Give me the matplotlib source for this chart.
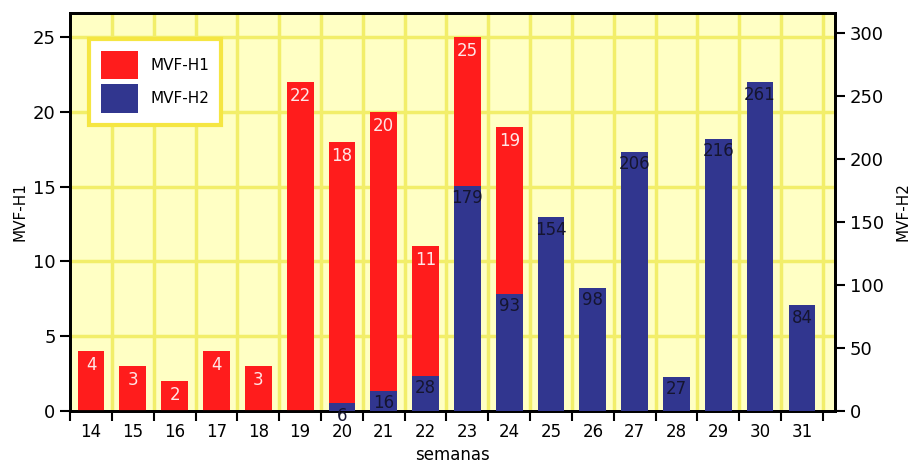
import matplotlib.pyplot as plt
import numpy as np

semanas = [14, 15, 16, 17, 18, 19, 20, 21, 22, 23, 24, 25, 26, 27, 28, 29, 30, 31]
mvf_h1 = [4, 3, 2, 4, 3, 22, 18, 20, 11, 25, 19, 0, 0, 0, 0, 0, 0, 0]
mvf_h2 = [0, 0, 0, 0, 0, 0, 6, 16, 28, 179, 93, 154, 98, 206, 27, 216, 261, 84]

RED = "#ff1c1c"
NAVY = "#31368f"
BG = "#ffffc4"
GRID = "#f2ee6a"

x = np.array(semanas)
w = 0.64

fig = plt.figure(figsize=(9.11, 4.67), dpi=100)
ax = fig.add_axes([0.077, 0.12, 0.84, 0.852])
ax.set_facecolor(BG)

b1 = ax.bar(x, mvf_h1, width=w, color=RED, zorder=3)
ax.set_xlim(13.5, 31.8)
ax.set_ylim(0, 26.6)
ax.set_yticks([0, 5, 10, 15, 20, 25])

# grid: horizontal on left ticks, vertical on week boundaries
for yv in [5, 10, 15, 20, 25]:
    ax.axhline(yv, color=GRID, lw=2.5, zorder=1)
for xb in np.arange(14.5, 32, 1):
    ax.axvline(xb, color=GRID, lw=2.5, zorder=1)

# second series on its own axis, drawn in front of the red bars
ax2 = ax.twinx()
b2 = ax2.bar(x, mvf_h2, width=w, color=NAVY, zorder=3)
ax2.set_ylim(0, 316)
ax2.set_yticks([0, 50, 100, 150, 200, 250, 300])

# value labels just inside the top of each bar
for xi, v in zip(x, mvf_h1):
    if v > 0:
        ax.annotate(str(v), xy=(xi, v), xytext=(0, -10), textcoords="offset points",
                    ha="center", va="center", fontsize=12, color="#ffe6e6", zorder=4)
for xi, v in zip(x, mvf_h2):
    if v > 0:
        ax2.annotate(str(v), xy=(xi, v), xytext=(0, -9), textcoords="offset points",
                     ha="center", va="center", fontsize=12, color="#151530", zorder=4)

# x ticks at week boundaries, labels at centers
ax.set_xticks(np.arange(13.5, 32, 1))
ax.set_xticklabels([])
ax.set_xticks(x, minor=True)
ax.set_xticklabels([str(s) for s in semanas], minor=True, fontsize=12)
ax.tick_params(axis="x", which="major", length=7, width=1.5, direction="out")
ax.tick_params(axis="x", which="minor", length=0, pad=9)
ax.tick_params(axis="y", length=7, width=1.5, labelsize=13)
ax2.tick_params(axis="y", length=7, width=1.5, labelsize=13)

for a in (ax, ax2):
    for sp in a.spines.values():
        sp.set_linewidth(2)
        sp.set_color("black")

ax.set_xlabel("semanas", fontsize=12, labelpad=3)
ax.set_ylabel("MVF-H1", fontsize=11)
ax2.set_ylabel("MVF-H2", fontsize=11, labelpad=8)

leg = ax2.legend([b1, b2], ["MVF-H1", "MVF-H2"], loc="upper left",
                 bbox_to_anchor=(0.015, 0.955), fontsize=11, frameon=True,
                 fancybox=False, handlelength=2.4, handleheight=2.5,
                 borderpad=0.8, labelspacing=0.3, handletextpad=0.8)
leg.get_frame().set_edgecolor("#f5e642")
leg.get_frame().set_linewidth(3)
leg.get_frame().set_facecolor("white")
leg.get_frame().set_alpha(1)

fig.savefig("out.png", dpi=100)
